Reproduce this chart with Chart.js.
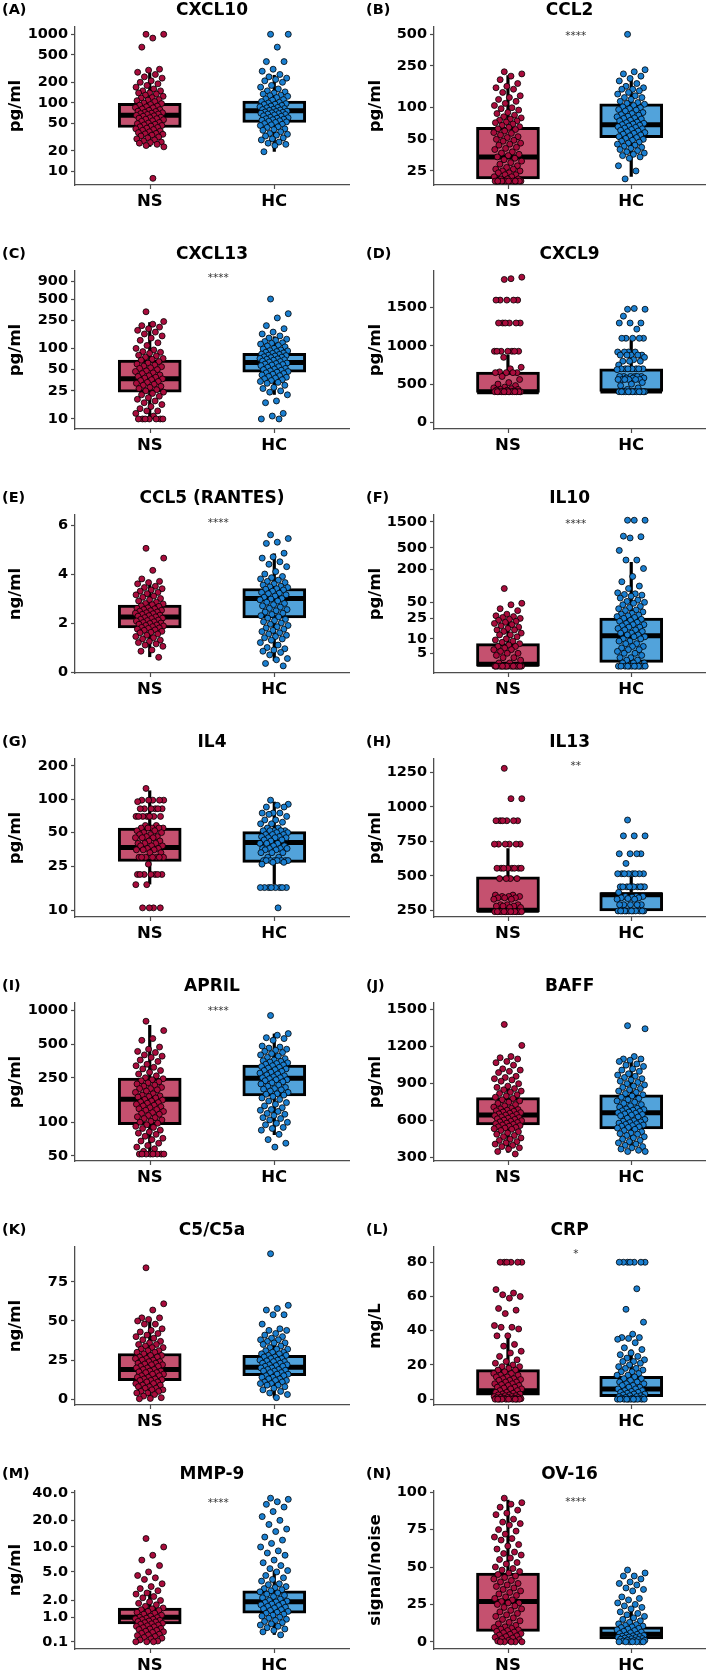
<!DOCTYPE html>
<html><head><meta charset="utf-8">
<script src="https://cdn.jsdelivr.net/npm/chart.js@4.4.1/dist/chart.umd.min.js"></script>
<style>
html,body{margin:0;padding:0;background:#fff}
body{width:709px;height:1672px;position:relative;overflow:hidden}
canvas{position:absolute}
</style></head><body>
<script>
// ---------------- DATA ----------------
const GROUPS = ['NS', 'HC'];
const LETTERS = ['(A)','(B)','(C)','(D)','(E)','(F)','(G)','(H)','(I)','(J)','(K)','(L)','(M)','(N)'];
const TITLES = ['CXCL10','CCL2','CXCL13','CXCL9','CCL5 (RANTES)','IL10','IL4','IL13','APRIL','BAFF','C5/C5a','CRP','MMP-9','OV-16'];
const Y_TITLES = ['pg/ml','pg/ml','pg/ml','pg/ml','ng/ml','pg/ml','pg/ml','pg/ml','pg/ml','pg/ml','ng/ml','mg/L','ng/ml','signal/noise'];
const SIGNIF = ['','****','****','','****','****','','**','****','','','*','****','****'];
const SIGNIF_Y = [null,514,1085,null,6.18,1560,null,1318,1050,null,null,86.5,33,95];

// box stats: [lower whisker, Q1, median, Q3, upper whisker]
const CXCL10_NS = [1000,1000,880,650,310,300,280,260,240,230,210,200,190,180,170,160,150,150,140,140,135,130,125,120,118,112,110,108,105,100,98,95,93,90,88,86,85,82,80,78,76,75,73,72,71,70,69,68,66,65,64,62,61,60,59,58,57,55,54,52,51,50,49,48,47,46,45,44,43,42,41,40,39,38,37,36,35.5,35,34,33,32,31,30,29,28,27,26.5,26,25,24,23,8];
const CXCL10_HC = [1000,1000,650,400,400,310,290,260,240,230,220,210,200,180,170,160,150,145,140,135,130,128,125,120,115,112,110,105,102,100,98,96,95,92,90,88,86,85,83,81,80,79,78,76,75,74,73,72,71,70,69,68,67,65,64,62,61,60,59,58,57,56,55,54,53,52,50,49,48,47,45,44,42,41,40,38,36,35,34,33,31,30,29,27,26,25,24,19.5];
const CXCL10_NS_BOX = [23,44,66,99,277];
const CXCL10_HC_BOX = [19.5,52,77,107,256];
const CXCL10_TICKS = [10,20,50,100,200,500,1000];
const CXCL10_TICK_LABELS = ['10','20','50','100','200','500','1000'];

const CCL2_NS = [220,210,200,185,170,160,155,150,140,130,125,120,115,110,105,100,98,95,90,88,85,82,80,78,76,75,73,72,70,68,66,65,63,62,60,58,57,55,53,52,50,49,48,46,45,44,42,41,40,38,37,36,35,34,33,32,31,30,29,28,27,26,26,25,25,24,24,23,23,22,22,21,21,21,20,20,20,20,20,20,20,20,20,20,20,20,20,20,20];
const CCL2_HC = [500,230,220,210,200,190,180,170,160,155,150,150,145,140,135,130,125,125,120,115,112,110,108,105,102,100,98,96,95,93,90,88,86,85,83,82,80,79,78,76,75,73,72,71,70,69,68,67,66,65,64,63,62,61,60,59,58,57,56,55,54,53,52,51,50,49,48,47,46,45,44,43,42,41,40,39,38,37,36,35,34,33,28,25,21];
const CCL2_NS_BOX = [20,21,34,65,204];
const CCL2_HC_BOX = [22,52,69,109,195];
const CCL2_TICKS = [25,50,100,250,500];
const CCL2_TICK_LABELS = ['25','50','100','250','500'];

const CXCL13_NS = [330,240,220,210,200,190,180,170,160,150,140,130,120,110,100,95,90,88,85,80,78,75,72,70,68,65,62,60,58,56,55,53,52,50,48,47,45,44,42,41,40,39,38,37,36,35,34,33,32,31,30,29,28,27,26,25,24,23,22,21,20,19,18,17,16,15,14,13,13,12,11,10,10,10,10,10,10,10];
const CXCL13_HC = [500,310,270,210,190,170,160,150,140,135,130,125,120,118,115,110,108,105,100,98,95,93,92,90,88,86,85,83,82,80,79,78,76,75,74,72,71,70,69,68,66,65,64,62,61,60,59,58,57,55,54,52,51,50,49,48,47,46,45,44,43,42,41,40,39,38,37,36,35,34,33,32,30,28,27,25,24,22,18,17,12,11,10,10];
const CXCL13_NS_BOX = [10,24,37,68,235];
const CXCL13_HC_BOX = [22,46,63,85,148];
const CXCL13_TICKS = [10,25,50,100,250,500,900];
const CXCL13_TICK_LABELS = ['10','25','50','100','250','500','900'];

const CXCL9_NS = [1870,1900,1880,1600,1600,1600,1600,1600,1300,1300,1300,1300,1300,1300,930,930,930,930,930,930,930,850,720,700,660,650,650,650,650,600,560,520,500,480,460,450,440,430,430,420,420,410,400,400,400,400,400,400,400,400,400,400,400,400,400,400];
const CXCL9_HC = [1480,1480,1490,1390,1300,1300,1300,1220,1100,1100,1100,1100,1100,920,920,920,920,880,880,880,880,880,850,820,800,800,800,750,700,700,700,700,700,700,700,690,600,600,600,600,600,600,580,580,580,560,560,560,560,560,560,520,500,480,450,430,400,400,400,400,400,400,400,400,400,400,400,400,400];
const CXCL9_NS_BOX = [390,390,400,658,886];
const CXCL9_HC_BOX = [400,403,410,701,1083];
const CXCL9_TICKS = [0,500,1000,1500];
const CXCL9_TICK_LABELS = ['0','500','1000','1500'];

const CCL5_NS = [5.05,4.65,4.15,3.8,3.7,3.65,3.6,3.5,3.45,3.4,3.35,3.3,3.25,3.2,3.15,3.1,3.05,3.0,2.95,2.9,2.85,2.8,2.78,2.75,2.7,2.68,2.62,2.6,2.58,2.55,2.52,2.5,2.48,2.45,2.42,2.4,2.38,2.35,2.32,2.3,2.28,2.25,2.22,2.2,2.18,2.15,2.12,2.1,2.08,2.05,2.02,2.0,1.98,1.95,1.92,1.9,1.88,1.85,1.82,1.8,1.78,1.75,1.72,1.7,1.66,1.62,1.6,1.55,1.5,1.45,1.4,1.35,1.3,1.25,1.2,1.15,1.1,1.05,0.9,0.85,0.6];
const CCL5_HC = [5.6,5.45,5.3,5.25,4.85,4.7,4.65,4.5,4.4,4.3,4.1,4.0,3.9,3.85,3.8,3.75,3.7,3.65,3.6,3.55,3.5,3.48,3.45,3.4,3.38,3.35,3.3,3.25,3.22,3.2,3.15,3.1,3.05,3.0,2.98,2.95,2.9,2.85,2.8,2.75,2.7,2.65,2.6,2.55,2.5,2.45,2.4,2.35,2.3,2.25,2.2,2.15,2.1,2.05,2.0,1.95,1.9,1.85,1.8,1.75,1.7,1.65,1.6,1.55,1.5,1.45,1.4,1.35,1.3,1.2,1.1,1.0,0.95,0.9,0.85,0.8,0.7,0.55,0.5,0.35,0.25];
const CCL5_NS_BOX = [0.61,1.8,2.25,2.73,3.62];
const CCL5_HC_BOX = [0.45,2.21,3.0,3.41,4.84];
const CCL5_TICKS = [0,2,4,6];
const CCL5_TICK_LABELS = ['0','2','4','6'];

const IL10_NS = [90,48,45,38,35,30,28,27,26,25,24,23,22,21,20,19,18,17,16,15,15,14,13,12,12,11,10,9.5,9,8.5,8,7.5,7,7,6.5,6,6,5.5,5,5,4.5,4,4,3.5,3,3,2.5,2.5,2.5,2.5,2.5,2.5,2.5,2.5,2.5,2.5,2.5,2.5,2.5,2.5,2.5,2.5,2.5,2.5,2.5];
const IL10_HC = [1600,1600,1600,820,800,760,450,300,300,210,150,120,100,90,75,72,70,68,65,60,55,52,50,48,45,42,40,38,36,35,33,31,30,29,28,27,26,25,24,23,22,21,20,19,19,18,17,17,16,15,15,14,13,13,12,12,11,11,10,10,9,9,8,8,7,7,6.5,6,6,5.5,5,5,4.5,4,4,3.5,3.5,3,3,3,2.5,2.5,2.5,2.5,2.5,2.5,2.5,2.5,2.5,2.5,2.5,2.5];
const IL10_NS_BOX = [2.4,2.5,2.8,8,23];
const IL10_HC_BOX = [2.4,3.1,11.6,25.3,277];
const IL10_TICKS = [5,10,25,50,200,500,1500];
const IL10_TICK_LABELS = ['5','10','25','50','200','500','1500'];

const IL4_NS = [125,98,98,98,98,98,95,82,82,82,82,82,82,70,70,70,70,70,70,70,58,58,55,55,55,55,55,52,52,50,50,48,48,46,46,45,45,45,42,42,40,40,40,38,38,38,36,36,35,35,35,33,33,30,30,30,30,30,30,30,26,21,21,21,21,21,21,21,17,17,10.5,10.5,10.5,10.5];
const IL4_HC = [98,90,88,85,85,75,75,75,73,70,65,65,62,60,60,55,55,52,52,52,52,52,50,50,48,48,48,46,46,45,45,45,43,43,42,40,40,40,38,38,36,36,36,36,35,35,33,33,33,30,30,28,28,28,28,28,28,28,28,27,27,26,16,16,16,16,16,16,16,16,10.5];
const IL4_NS_BOX = [17.1,27.5,36.8,55,120];
const IL4_HC_BOX = [17,27,40.8,51,95];
const IL4_TICKS = [10,25,50,100,200];
const IL4_TICK_LABELS = ['10','25','50','100','200'];

const IL13_NS = [1280,1060,1060,900,900,900,900,900,900,730,730,730,730,730,730,555,555,555,555,555,555,555,555,480,480,480,480,360,360,350,350,350,340,340,340,330,330,290,290,290,280,280,280,270,270,240,240,240,240,240,240,240,240,240,240,240,240,240];
const IL13_HC = [905,790,790,790,660,660,660,660,590,515,515,515,515,515,515,515,515,420,420,420,420,420,420,420,420,420,420,380,350,350,350,345,340,340,335,330,330,290,290,290,290,290,245,245,245,245,245,245,245,245,245,245,245,245];
const IL13_NS_BOX = [238,238,250,493,700];
const IL13_HC_BOX = [245,245,362,379,497];
const IL13_TICKS = [250,500,750,1000,1250];
const IL13_TICK_LABELS = ['250','500','750','1000','1250'];

const APRIL_NS = [800,660,560,540,470,450,430,420,400,390,380,360,350,330,320,310,300,290,280,270,260,250,245,240,235,230,225,220,215,210,205,200,200,195,190,185,180,175,172,170,168,165,160,158,155,152,150,148,145,142,140,138,135,132,130,128,125,122,120,118,115,112,110,108,105,102,100,98,95,92,90,88,85,82,80,78,75,72,70,68,65,62,60,58,55,52,52,52,52,52,52,52,52];
const APRIL_HC = [900,620,600,570,560,540,480,470,460,450,440,430,420,410,400,390,380,370,360,355,350,345,340,335,330,325,320,315,310,305,300,295,290,285,280,275,270,265,260,255,250,250,245,240,240,235,230,225,220,215,210,205,200,198,195,190,185,180,178,175,170,165,160,155,150,145,140,135,130,128,125,120,118,115,110,108,105,100,98,95,90,88,85,78,70,65,60];
const APRIL_NS_BOX = [52,95,161,248,740];
const APRIL_HC_BOX = [77,172,248,325,620];
const APRIL_TICKS = [50,100,250,500,1000];
const APRIL_TICK_LABELS = ['50','100','250','500','1000'];

const BAFF_NS = [1380,1210,1120,1110,1100,1080,1070,1050,1020,1010,1000,990,960,950,940,930,920,900,880,870,860,850,840,830,820,810,800,790,780,770,760,750,740,730,720,710,700,695,690,685,680,675,670,665,660,655,650,645,640,635,630,625,620,615,610,605,600,595,590,585,580,575,570,565,560,555,550,545,540,535,530,520,510,500,490,480,470,460,450,440,430,420,410,400,390,380,370,350,330];
const BAFF_HC = [1370,1345,1120,1100,1100,1090,1080,1060,1050,1040,1020,1010,1000,980,970,960,950,940,930,920,910,900,890,880,870,860,850,840,830,820,810,800,790,780,770,760,750,740,730,720,710,700,695,690,685,680,675,670,665,660,655,650,645,640,630,620,610,600,595,590,585,580,575,570,565,560,555,550,545,540,530,520,510,500,495,490,480,470,460,450,440,430,420,410,400,390,380,370,360,350,350];
const BAFF_NS_BOX = [340,565,646,787,884];
const BAFF_HC_BOX = [370,533,665,809,1099];
const BAFF_TICKS = [300,600,900,1200,1500];
const BAFF_TICK_LABELS = ['300','600','900','1200','1500'];

const C5A_NS = [84,61,57,52,52,51,50,48,48,45,44,43,42,41,40,39,38,37,36,35,35,34,33,33,32,31,31,30,30,29,28,28,27,27,26,26,25,25,24,24,23,23,22.5,22,22,21,21,20,20,19,19,18,18,17.5,17,17,16,16,15,15,14,14,13,13,12.5,12,12,11,11,10,10,9,9,8,8,7,7,6,6,5,5,4,4,3,2,1,0.5,0.3];
const C5A_HC = [93,60,58,57,54,54,48,45,44,44,42,41,40,39,38,38,37,36,36,35,34,33,32,32,31,30,30,29,29,28,28,27,27,26,26,25,25,24.5,24,24,23,23,22,22,21.5,21,21,20,20,19,19,18.5,18,18,17,17,16,16,15,15,14,14,13,13,12,12,11,11,10,10,9,9,8,7,6,5,4,3,1];
const C5A_NS_BOX = [0.3,11.9,19,29.2,51.3];
const C5A_HC_BOX = [1,15.1,20.5,28.1,37.8];
const C5A_TICKS = [0,25,50,75];
const C5A_TICK_LABELS = ['0','25','50','75'];

const CRP_NS = [80,80,80,80,80,80,64,62,61,60,59,53,52,50,43,42,42,41,37,37,32,31,28,27,25,23,22,21,20,19,19,18,17,17,16,15,15,14,14,13,13,12,12,11.5,11,11,10,10,9,9,8.5,8,8,7,7,6.5,6,6,5,5,4,4,3.5,3,3,2.5,2.5,2,2,1.5,1.5,1.2,1,1,0.8,0.5,0.5,0.3,0.2,0,0,0,0,0,0,0,0,0,0];
const CRP_HC = [80,80,80,80,80,80,80,64.5,52.5,45,38,36,36,35.5,35,33,30,29,27,26,25,24,23,22,22,21,20,19,18,18,17,16,16,15,14,14,13,12,12,11,10,10,9,9,8,8,7,7,6,6,5,5,4.5,4,4,3.5,3,3,2.5,2,2,1.5,1.5,1,1,0.5,0.5,0.2,0,0,0,0,0,0,0,0,0,0,0];
const CRP_NS_BOX = [0,2.4,4.9,17.3,36.8];
const CRP_HC_BOX = [0,1.4,5.9,13.3,29];
const CRP_TICKS = [0,20,40,60,80];
const CRP_TICK_LABELS = ['0','20','40','60','80'];

const MMP9_NS = [12.5,10,8,7,6,5,4.5,4.2,4,3.5,3.2,3,2.8,2.6,2.5,2.3,2.2,2,1.9,1.8,1.7,1.6,1.5,1.45,1.4,1.35,1.3,1.25,1.2,1.15,1.1,1.05,1.0,0.98,0.95,0.92,0.9,0.88,0.85,0.82,0.8,0.78,0.75,0.72,0.7,0.68,0.65,0.62,0.6,0.58,0.55,0.52,0.5,0.48,0.45,0.42,0.4,0.38,0.35,0.32,0.3,0.28,0.25,0.22,0.2,0.18,0.15,0.12,0.1,0.1,0.1];
const MMP9_HC = [35,34,32,30,28,25,22,20,18,16,15,13,12,11,10,9,8.5,8,7,6.5,6,5.5,5.2,5,4.5,4.2,4,3.8,3.5,3.4,3.2,3.1,3,2.9,2.8,2.7,2.6,2.5,2.4,2.3,2.2,2.1,2.0,1.95,1.9,1.85,1.8,1.75,1.7,1.65,1.6,1.55,1.5,1.45,1.4,1.35,1.3,1.25,1.2,1.15,1.1,1.05,1.0,0.95,0.9,0.85,0.8,0.75,0.7,0.65,0.6,0.55,0.5,0.45,0.4,0.3];
const MMP9_NS_BOX = [0.1,0.7,1.0,1.5,2.8];
const MMP9_HC_BOX = [0.3,1.2,1.9,2.8,5.2];
const MMP9_TICKS = [0.1,1,2,5,10,20,40];
const MMP9_TICK_LABELS = ['0.1','1.0','2.0','5.0','10.0','20.0','40.0'];

const OV16_NS = [96,93,92,90,88,86,85,82,80,79,78,75,74,72,70,69,68,65,64,62,60,59,58,56,55,53,52,50,49,48,47,46,45,44,43,42,41,40,39,38,37,36,35,34,33,32,31,30,29,28,27,26,26,25,24,23,22,21,20,19,18,17,16,15,14,13,12,11,10,9.5,9,8.5,8,7.5,7,6.5,6,5.5,5,4.5,4,3.5,3,2.5,2,1.5,1,0.5,0,0,0,0,0];
const OV16_HC = [48,46,44,44,42,40,39,38,36,35,34,30,29,28,26,25,24,23,22,20,19,18,17,16,15,14,13,12,11.5,11,10.5,10,9.5,9,8.5,8,7.5,7,6.5,6,5.5,5,4.5,4.2,4,3.8,3.5,3.2,3,2.8,2.5,2.2,2,1.8,1.5,1.2,1,0.8,0.5,0,0,0,0,0,0,0];
const OV16_NS_BOX = [0,7,27,46,95];
const OV16_HC_BOX = [0,2,5,10,22];
const OV16_TICKS = [0,25,50,75,100];
const OV16_TICK_LABELS = ['0','25','50','75','100'];

const PANELS = [
  {ns:CXCL10_NS, hc:CXCL10_HC, nsBox:CXCL10_NS_BOX, hcBox:CXCL10_HC_BOX, ticks:CXCL10_TICKS, labels:CXCL10_TICK_LABELS},
  {ns:CCL2_NS, hc:CCL2_HC, nsBox:CCL2_NS_BOX, hcBox:CCL2_HC_BOX, ticks:CCL2_TICKS, labels:CCL2_TICK_LABELS},
  {ns:CXCL13_NS, hc:CXCL13_HC, nsBox:CXCL13_NS_BOX, hcBox:CXCL13_HC_BOX, ticks:CXCL13_TICKS, labels:CXCL13_TICK_LABELS},
  {ns:CXCL9_NS, hc:CXCL9_HC, nsBox:CXCL9_NS_BOX, hcBox:CXCL9_HC_BOX, ticks:CXCL9_TICKS, labels:CXCL9_TICK_LABELS},
  {ns:CCL5_NS, hc:CCL5_HC, nsBox:CCL5_NS_BOX, hcBox:CCL5_HC_BOX, ticks:CCL5_TICKS, labels:CCL5_TICK_LABELS},
  {ns:IL10_NS, hc:IL10_HC, nsBox:IL10_NS_BOX, hcBox:IL10_HC_BOX, ticks:IL10_TICKS, labels:IL10_TICK_LABELS},
  {ns:IL4_NS, hc:IL4_HC, nsBox:IL4_NS_BOX, hcBox:IL4_HC_BOX, ticks:IL4_TICKS, labels:IL4_TICK_LABELS},
  {ns:IL13_NS, hc:IL13_HC, nsBox:IL13_NS_BOX, hcBox:IL13_HC_BOX, ticks:IL13_TICKS, labels:IL13_TICK_LABELS},
  {ns:APRIL_NS, hc:APRIL_HC, nsBox:APRIL_NS_BOX, hcBox:APRIL_HC_BOX, ticks:APRIL_TICKS, labels:APRIL_TICK_LABELS},
  {ns:BAFF_NS, hc:BAFF_HC, nsBox:BAFF_NS_BOX, hcBox:BAFF_HC_BOX, ticks:BAFF_TICKS, labels:BAFF_TICK_LABELS},
  {ns:C5A_NS, hc:C5A_HC, nsBox:C5A_NS_BOX, hcBox:C5A_HC_BOX, ticks:C5A_TICKS, labels:C5A_TICK_LABELS},
  {ns:CRP_NS, hc:CRP_HC, nsBox:CRP_NS_BOX, hcBox:CRP_HC_BOX, ticks:CRP_TICKS, labels:CRP_TICK_LABELS},
  {ns:MMP9_NS, hc:MMP9_HC, nsBox:MMP9_NS_BOX, hcBox:MMP9_HC_BOX, ticks:MMP9_TICKS, labels:MMP9_TICK_LABELS},
  {ns:OV16_NS, hc:OV16_HC, nsBox:OV16_NS_BOX, hcBox:OV16_HC_BOX, ticks:OV16_TICKS, labels:OV16_TICK_LABELS}
];

// axis transform and range (in transformed units)
const AXES = [
  {tf:'log', min:0.806, max:3.106},
  {tf:'log', min:1.264, max:2.769},
  {tf:'log', min:0.858, max:3.096},
  {tf:'lin', min:-88, max:1981},
  {tf:'lin', min:-0.04, max:6.41},
  {tf:'log1p', min:0.419, max:3.30},
  {tf:'log', min:0.939, max:2.362},
  {tf:'lin', min:201, max:1348},
  {tf:'log', min:1.654, max:3.066},
  {tf:'lin', min:273, max:1554},
  {tf:'lin', min:-3.7, max:97.3},
  {tf:'lin', min:-3.4, max:88.9},
  {tf:'log1p', min:-0.035, max:1.632},
  {tf:'lin', min:-4.8, max:100.8}
];

// ---------------- RENDER ----------------
const TF = {lin: v => v, log: v => Math.log10(v), log1p: v => Math.log10(v + 1)};
const NS_BOX = '#C5516F', HC_BOX = '#52A3DB', NS_PT = '#A80C3C', HC_PT = '#1B7FD0';
const AXIS_COL = '#4d4d4d';
const FONT = 'DejaVu Sans';
Chart.defaults.font.family = FONT;
const jit = i => (((i * 0.6180339887 + 0.37) % 1) * 2 - 1) * 0.115;

const panelText = {
  id: 'panelText',
  afterDraw(chart, args, o) {
    const ctx = chart.ctx, ca = chart.chartArea, xs = chart.scales.x;
    ctx.save();
    // x tick marks at the two groups
    ctx.strokeStyle = AXIS_COL; ctx.lineWidth = 1.2;
    [1, 2].forEach(v => {
      const x = Math.round(xs.getPixelForValue(v)) + 0.5;
      ctx.beginPath(); ctx.moveTo(x, ca.bottom); ctx.lineTo(x, ca.bottom + 4); ctx.stroke();
    });
    ctx.fillStyle = '#000';
    ctx.textBaseline = 'middle';
    ctx.font = 'bold 14.5px "' + FONT + '"';
    ctx.textAlign = 'left';
    ctx.fillText(o.letter, o.letterX, 10);
    ctx.font = 'bold 17px "' + FONT + '"';
    ctx.textAlign = 'center';
    ctx.fillText(o.title, (ca.left + ca.right) / 2, 11);
    if (o.stars) {
      ctx.font = '10.5px "' + FONT + '"';
      ctx.fillStyle = '#333';
      const x = xs.getPixelForValue(1.55);
      const y = chart.scales.y.getPixelForValue(o.starY);
      ctx.fillText(o.stars, x, y + 3);
    }
    ctx.restore();
  }
};

PANELS.forEach((p, idx) => {
  const col = idx % 2, row = Math.floor(idx / 2);
  const W = col === 0 ? 354 : 355, H = 244;
  const plotL = col === 0 ? 75 : 80, plotR = col === 0 ? 349 : 353;
  const ax = AXES[idx], f = TF[ax.tf];
  const cv = document.createElement('canvas');
  cv.width = W; cv.height = H;
  cv.style.left = (col * 354) + 'px';
  cv.style.top = (row * 244) + 'px';
  cv.style.width = W + 'px'; cv.style.height = H + 'px';
  document.body.appendChild(cv);

  const yTickVals = p.ticks.map(v => f(v));
  const yIdx = v => yTickVals.findIndex(t => Math.abs(t - v) < 1e-9);

  const pts = (vals, g, color) => ({
    type: 'scatter', order: 0,
    data: vals.map((v, i) => ({x: g + jit(i), y: f(v)})),
    pointRadius: 3.0, pointBackgroundColor: color, pointBorderColor: '#000', pointBorderWidth: 0.8,
    pointHoverRadius: 3.0
  });
  const seg = (x1, y1, x2, y2, w, order) => ({
    type: 'line', order, data: [{x: x1, y: y1}, {x: x2, y: y2}],
    borderColor: '#000', borderWidth: w, pointRadius: 0, fill: false, tension: 0
  });
  const b1 = p.nsBox, b2 = p.hcBox;
  const datasets = [
    pts(p.ns, 1, NS_PT), pts(p.hc, 2, HC_PT),
    seg(0.75, f(b1[2]), 1.25, f(b1[2]), 5, 1), seg(1.75, f(b2[2]), 2.25, f(b2[2]), 5, 1),
    {type: 'bar', order: 2,
     data: [{x: 1, y: [f(b1[1]), f(b1[3])]}, {x: 2, y: [f(b2[1]), f(b2[3])]}],
     backgroundColor: [NS_BOX, HC_BOX], borderColor: '#000', borderWidth: 3,
     borderSkipped: false, barThickness: 63},
    seg(1, f(b1[3]), 1, f(b1[4]), 3.2, 3), seg(1, f(b1[0]), 1, f(b1[1]), 3.2, 3),
    seg(2, f(b2[3]), 2, f(b2[4]), 3.2, 3), seg(2, f(b2[0]), 2, f(b2[1]), 3.2, 3)
  ];

  new Chart(cv, {
    type: 'scatter',
    data: {datasets},
    plugins: [panelText],
    options: {
      responsive: false, animation: false, devicePixelRatio: 1, events: [],
      layout: {padding: {top: 27, right: W - plotR, left: 0, bottom: 0}},
      plugins: {
        legend: {display: false}, tooltip: {enabled: false},
        panelText: {letter: LETTERS[idx], letterX: col === 0 ? 2 : 12, title: TITLES[idx],
                    stars: SIGNIF[idx], starY: SIGNIF_Y[idx] == null ? null : f(SIGNIF_Y[idx])}
      },
      scales: {
        x: {
          type: 'linear', min: 0.4, max: 2.6, bounds: 'data', offset: false,
          afterBuildTicks: s => { s.ticks = [{value: 1}, {value: 2}]; },
          afterFit: s => { s.height = H - 185; },
          ticks: {callback: v => (v === 1 ? GROUPS[0] : v === 2 ? GROUPS[1] : ''), color: '#000', padding: 3,
                  autoSkip: false, maxRotation: 0, font: {size: 16.5, weight: 'bold'}},
          grid: {display: false, drawOnChartArea: false, drawTicks: true, tickLength: 4},
          border: {display: true, color: AXIS_COL, width: 1.3}
        },
        y: {
          type: 'linear', min: ax.min, max: ax.max, bounds: 'data',
          afterBuildTicks: s => { s.ticks = yTickVals.map(v => ({value: v})); },
          afterFit: s => { s.width = plotL; },
          ticks: {callback: v => { const k = yIdx(v); return k >= 0 ? p.labels[k] : ''; },
                  color: '#000', padding: 3, autoSkip: false, font: {size: 14.5, weight: 'bold'}},
          grid: {drawOnChartArea: false, drawTicks: true, tickLength: 4, tickWidth: 1.2,
                 tickColor: c => (c.tick && yIdx(c.tick.value) >= 0) ? AXIS_COL : 'rgba(0,0,0,0)',
                 color: 'rgba(0,0,0,0)'},
          border: {display: true, color: AXIS_COL, width: 1.3},
          title: {display: true, text: Y_TITLES[idx], color: '#000',
                  font: {size: 16.5, weight: 'bold'}, padding: {top: col === 0 ? 6 : 12, bottom: 0}}
        }
      }
    }
  });
});
</script>
</body></html>
